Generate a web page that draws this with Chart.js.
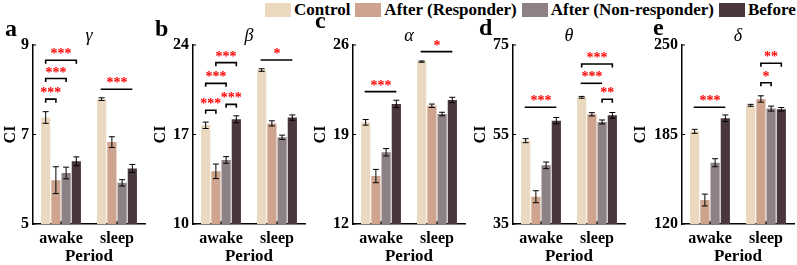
<!DOCTYPE html>
<html>
<head>
<meta charset="utf-8">
<script src="https://cdn.jsdelivr.net/npm/chart.js@4"></script>
<style>
  body { margin: 0; width: 797px; height: 265px; overflow: hidden; position: relative; background: #fff;
         font-family: "Liberation Serif", "Times New Roman", serif; color: #000; }
  .panel { position: absolute; top: 0; height: 265px; }
  .letter { position: absolute; font-weight: bold; font-size: 24px; line-height: 24px; }
  .greek { position: absolute; font-style: italic; font-size: 18px; line-height: 18px; transform: translateX(-50%); }
  #legend { position: absolute; left: 265px; top: 1px; display: flex; font-weight: bold; font-size: 17px; line-height: 17px; white-space: nowrap; }
  #legend .item { display: flex; align-items: center; margin-right: 5px; }
  #legend .sw { width: 26px; height: 14px; margin-right: 3px; }
</style>
</head>
<body>
<div id="legend"></div>
<script>
const categories = ['awake', 'sleep'];
const seriesNames = ['Control', 'After (Responder)', 'After (Non-responder)', 'Before'];
const seriesColors = ['#EAD8BF', '#CFA48E', '#8D8185', '#4A373C'];

// rows: Control, After (Responder), After (Non-responder), Before; columns: awake, sleep
const gammaMean = [[7.38, 7.79], [5.98, 6.83], [6.14, 5.92], [6.40, 6.24]];
const gammaErr  = [[0.13, 0.03], [0.30, 0.12], [0.13, 0.07], [0.10, 0.09]];
const gammaTicks = [5, 7, 9];
// [group, from series, to series, y, label, bracket]
const gammaSig = [[0, 0, 1, 7.79, '***', 1], [0, 0, 2, 8.25, '***', 1], [0, 0, 3, 8.66, '***', 1], [1, 0, 3, 8.01, '***', 0]];

const betaMean = [[17.72, 22.04], [14.12, 17.87], [15.01, 16.78], [18.19, 18.32]];
const betaErr  = [[0.25, 0.10], [0.57, 0.20], [0.26, 0.17], [0.27, 0.21]];
const betaTicks = [10, 17, 24];
const betaSig = [[0, 0, 1, 18.9, '***', 1], [0, 2, 3, 19.36, '***', 1], [0, 0, 2, 21.0, '***', 1], [0, 1, 3, 22.62, '***', 1], [1, 0, 3, 22.83, '*', 0]];

const alphaMean = [[19.95, 24.70], [15.75, 21.25], [17.61, 20.60], [21.39, 21.70]];
const alphaErr  = [[0.22, 0.05], [0.52, 0.13], [0.29, 0.14], [0.29, 0.21]];
const alphaTicks = [12, 19, 26];
const alphaSig = [[0, 0, 3, 22.35, '***', 0], [1, 0, 3, 25.48, '*', 0]];

const thetaMean = [[53.62, 63.31], [41.10, 59.51], [48.11, 57.80], [58.09, 59.28]];
const thetaErr  = [[0.45, 0.20], [1.34, 0.37], [0.74, 0.45], [0.71, 0.63]];
const thetaTicks = [35, 55, 75];
const thetaSig = [[0, 0, 3, 61.08, '***', 0], [1, 0, 3, 70.75, '***', 1], [1, 0, 2, 66.44, '***', 0], [1, 2, 3, 62.87, '**', 1]];

const deltaMean = [[187.3, 206.2], [137.4, 210.8], [164.5, 203.8], [196.8, 203.3]];
const deltaErr  = [[1.45, 0.7], [4.3, 2.3], [2.9, 1.8], [2.4, 1.3]];
const deltaTicks = [120, 185, 250];
const deltaSig = [[0, 0, 3, 204.8, '***', 0], [1, 1, 2, 222.6, '*', 1], [1, 1, 3, 236.7, '**', 1]];

const FONT = "'Liberation Serif', 'Times New Roman', serif";

const panels = [
  { letter: 'a', greek: 'γ', mean: gammaMean, err: gammaErr, ticks: gammaTicks, sig: gammaSig, axisX: 33, yw: 30, lx: 5, ly: 16 },
  { letter: 'b', greek: 'β', mean: betaMean, err: betaErr, ticks: betaTicks, sig: betaSig, axisX: 193, yw: 40, lx: 155, ly: 16 },
  { letter: 'c', greek: 'α', mean: alphaMean, err: alphaErr, ticks: alphaTicks, sig: alphaSig, axisX: 353, yw: 40, lx: 315, ly: 8 },
  { letter: 'd', greek: 'θ', mean: thetaMean, err: thetaErr, ticks: thetaTicks, sig: thetaSig, axisX: 513, yw: 40, lx: 479, ly: 15 },
  { letter: 'e', greek: 'δ', mean: deltaMean, err: deltaErr, ticks: deltaTicks, sig: deltaSig, axisX: 682, yw: 49, lx: 653, ly: 15 }
];
const plotW = 112;

// legend
const legend = document.getElementById('legend');
seriesNames.forEach((name, i) => {
  const item = document.createElement('div');
  item.className = 'item';
  item.innerHTML = '<div class="sw" style="background:' + seriesColors[i] + '"></div><span>' + name + '</span>';
  legend.appendChild(item);
});

const errorBars = {
  id: 'errorBars',
  afterDatasetsDraw(chart) {
    const ctx = chart.ctx, y = chart.scales.y;
    ctx.save();
    ctx.strokeStyle = '#000';
    ctx.lineWidth = 1;
    chart.data.datasets.forEach((ds, i) => {
      chart.getDatasetMeta(i).data.forEach((bar, j) => {
        const top = y.getPixelForValue(ds.data[j] + ds.err[j]);
        const bot = y.getPixelForValue(ds.data[j] - ds.err[j]);
        ctx.beginPath();
        ctx.moveTo(bar.x, top); ctx.lineTo(bar.x, bot);
        ctx.moveTo(bar.x - 3, top); ctx.lineTo(bar.x + 3, top);
        ctx.moveTo(bar.x - 3, bot); ctx.lineTo(bar.x + 3, bot);
        ctx.stroke();
      });
    });
    ctx.restore();
  }
};

const sigMarks = {
  id: 'sigMarks',
  afterDraw(chart, args, opts) {
    const ctx = chart.ctx, y = chart.scales.y;
    ctx.save();
    ctx.strokeStyle = '#000';
    ctx.lineWidth = 1.6;
    ctx.font = 'bold 14px ' + FONT;
    ctx.textAlign = 'center';
    ctx.textBaseline = 'alphabetic';
    opts.items.forEach(([g, a, b, v, label, bracket]) => {
      const x1 = chart.getDatasetMeta(a).data[g].x;
      const x2 = chart.getDatasetMeta(b).data[g].x;
      const py = y.getPixelForValue(v);
      ctx.beginPath();
      if (bracket) {
        ctx.moveTo(x1, py + 3.5); ctx.lineTo(x1, py); ctx.lineTo(x2, py); ctx.lineTo(x2, py + 3.5);
      } else {
        ctx.moveTo(x1 - 1, py); ctx.lineTo(x2, py);
      }
      ctx.stroke();
      ctx.fillStyle = '#FF0000';
      ctx.fillText(label, (x1 + x2) / 2, py - 2);
    });
    // inward tick marks
    ctx.lineWidth = 1;
    const area = chart.chartArea;
    y.ticks.forEach(t => {
      const py = y.getPixelForValue(t.value);
      ctx.beginPath(); ctx.moveTo(area.left, py); ctx.lineTo(area.left + 3, py); ctx.stroke();
    });
    const x = chart.scales.x;
    categories.forEach((c, i) => {
      const px = x.getPixelForValue(i);
      ctx.beginPath(); ctx.moveTo(px, area.bottom); ctx.lineTo(px, area.bottom - 3); ctx.stroke();
    });
    ctx.restore();
  }
};

panels.forEach(p => {
  const div = document.createElement('div');
  div.className = 'panel';
  div.style.left = (p.axisX - p.yw) + 'px';
  div.style.width = (p.yw + plotW + 24) + 'px';
  const canvas = document.createElement('canvas');
  div.appendChild(canvas);
  document.body.appendChild(div);

  const letter = document.createElement('div');
  letter.className = 'letter';
  letter.textContent = p.letter;
  letter.style.left = p.lx + 'px';
  letter.style.top = p.ly + 'px';
  document.body.appendChild(letter);

  const greek = document.createElement('div');
  greek.className = 'greek';
  greek.textContent = p.greek;
  greek.style.left = (p.axisX + plotW / 2) + 'px';
  greek.style.top = '26px';
  document.body.appendChild(greek);

  new Chart(canvas, {
    type: 'bar',
    data: {
      labels: categories,
      datasets: seriesNames.map((name, i) => ({
        label: name,
        data: p.mean[i],
        err: p.err[i],
        backgroundColor: seriesColors[i],
        borderWidth: 0,
        categoryPercentage: 0.73,
        barPercentage: 0.9
      }))
    },
    options: {
      animation: false,
      responsive: true,
      maintainAspectRatio: false,
      layout: { padding: { top: 45, right: 24, left: 0, bottom: 0 } },
      plugins: {
        legend: { display: false },
        tooltip: { enabled: false },
        sigMarks: { items: p.sig }
      },
      scales: {
        x: {
          grid: { display: false, drawTicks: false },
          border: { color: '#000', width: 1.5 },
          ticks: { color: '#000', maxRotation: 0, padding: 5, font: { family: FONT, size: 16, weight: 'bold' } },
          title: { display: true, text: 'Period', color: '#000', padding: 0, font: { family: FONT, size: 17, weight: 'bold', lineHeight: 1 } },
          afterFit: s => { s.height = 41; }
        },
        y: {
          min: p.ticks[0],
          max: p.ticks[p.ticks.length - 1],
          grid: { display: false, drawTicks: false },
          border: { color: '#000', width: 1.5 },
          ticks: { color: '#000', padding: 4, font: { family: FONT, size: 16, weight: 'bold' } },
          afterBuildTicks: s => { s.ticks = p.ticks.map(v => ({ value: v })); },
          title: { display: true, text: 'CI', color: '#000', padding: 0, font: { family: FONT, size: 16, weight: 'bold', lineHeight: 1 } },
          afterFit: s => { s.width = p.yw; }
        }
      }
    },
    plugins: [errorBars, sigMarks]
  });
});
</script>
</body>
</html>
